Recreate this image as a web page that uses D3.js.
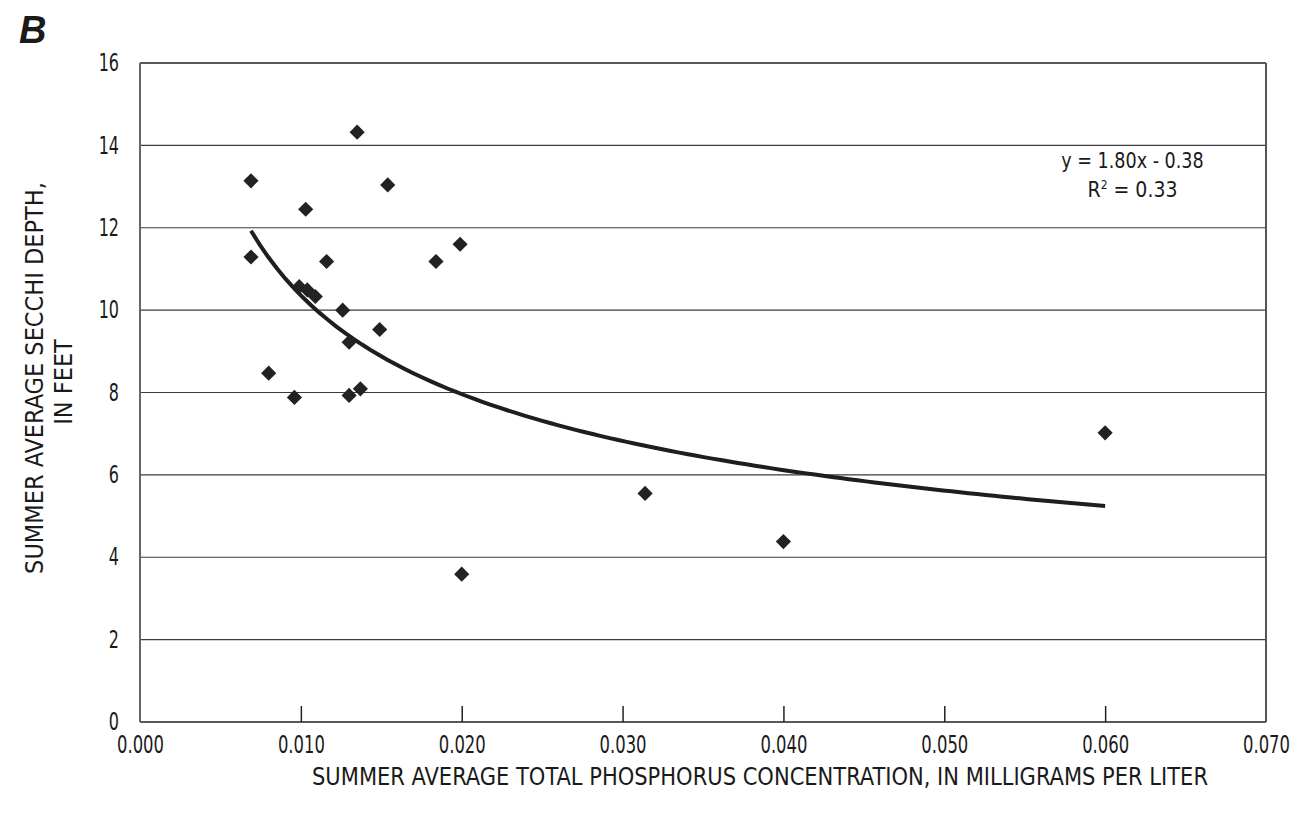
<!DOCTYPE html>
<html>
<head>
<meta charset="utf-8">
<script src="https://d3js.org/d3.v7.min.js"></script>
<style>
  body { margin: 0; background: #fff; }
  text { font-family: "DejaVu Sans Condensed", "DejaVu Sans", sans-serif; font-stretch: condensed; fill: #1a1a1a; }
</style>
</head>
<body>
<div id="chart"></div>
<script>
  // phosphorus (mg/L) and secchi depth (ft)
  const phosphorus = [0.0135, 0.0069, 0.0154, 0.0103, 0.0199, 0.0184, 0.0069, 0.0116,
    0.0099, 0.0104, 0.0109, 0.0126, 0.0149, 0.0130, 0.0080, 0.0096, 0.0130, 0.0137,
    0.0200, 0.0314, 0.0400, 0.0600];
  const secchi = [14.32, 13.14, 13.04, 12.45, 11.60, 11.18, 11.29, 11.18,
    10.57, 10.49, 10.33, 10.00, 9.53, 9.22, 8.47, 7.88, 7.93, 8.09,
    3.59, 5.55, 4.38, 7.02];

  const xTicks = [0, 0.01, 0.02, 0.03, 0.04, 0.05, 0.06, 0.07];
  const yTicks = [0, 2, 4, 6, 8, 10, 12, 14, 16];

  // power trendline y = a * x^b as printed on the chart
  const trendA = 1.80;
  const trendB = -0.38;

  const width = 1293, height = 814;
  const margin = { left: 140, right: 27, top: 63, bottom: 92 };

  // squeeze text horizontally to mimic the narrow typeface of the original
  function condense(sel, k) {
    sel.each(function () {
      const w = this.getComputedTextLength();
      d3.select(this).attr("textLength", w * k).attr("lengthAdjust", "spacingAndGlyphs");
    });
  }

  const svg = d3.select("#chart").append("svg")
    .attr("width", width)
    .attr("height", height);

  const x = d3.scaleLinear().domain([0, 0.07]).range([margin.left, width - margin.right]);
  const y = d3.scaleLinear().domain([0, 16]).range([height - margin.bottom, margin.top]);

  // horizontal gridlines
  svg.append("g")
    .selectAll("line")
    .data(yTicks.filter(d => d > 0 && d < 16))
    .enter()
    .append("line")
    .attr("x1", x(0)).attr("x2", x(0.07))
    .attr("y1", d => y(d)).attr("y2", d => y(d))
    .attr("stroke", "#3a3a3a")
    .attr("stroke-width", 1.2);

  // frame: top + bottom black, left + right gray
  svg.append("line").attr("x1", x(0)).attr("x2", x(0.07)).attr("y1", y(16)).attr("y2", y(16))
    .attr("stroke", "#222").attr("stroke-width", 1.5);
  svg.append("line").attr("x1", x(0)).attr("x2", x(0.07)).attr("y1", y(0)).attr("y2", y(0))
    .attr("stroke", "#222").attr("stroke-width", 1.5);
  svg.append("line").attr("x1", x(0)).attr("x2", x(0)).attr("y1", y(0)).attr("y2", y(16))
    .attr("stroke", "#666").attr("stroke-width", 2);
  svg.append("line").attr("x1", x(0.07)).attr("x2", x(0.07)).attr("y1", y(0)).attr("y2", y(16))
    .attr("stroke", "#555").attr("stroke-width", 2);

  // x axis (ticks point up into the plot)
  const xAxis = d3.axisBottom(x)
    .tickValues(xTicks)
    .tickFormat(d3.format(".3f"))
    .tickSizeInner(-16)
    .tickSizeOuter(0)
    .tickPadding(14);
  const gx = svg.append("g")
    .attr("transform", `translate(0,${y(0)})`)
    .call(xAxis);
  gx.select(".domain").remove();
  gx.selectAll(".tick line")
    .attr("stroke", "#222")
    .attr("stroke-width", 1.5)
    .filter(d => d === 0 || d === 0.07).remove();
  gx.selectAll(".tick text").attr("font-size", 24).attr("fill", "#1a1a1a");

  // y axis
  const yAxis = d3.axisLeft(y)
    .tickValues(yTicks)
    .tickSize(0)
    .tickPadding(21);
  const gy = svg.append("g")
    .attr("transform", `translate(${x(0)},0)`)
    .call(yAxis);
  gy.select(".domain").remove();
  gy.selectAll(".tick text").attr("font-size", 24).attr("fill", "#1a1a1a");
  svg.selectAll("g").attr("font-family", null);
  condense(gx.selectAll(".tick text"), 0.76);
  condense(gy.selectAll(".tick text"), 0.74);

  // trendline over the data range
  const [xMin, xMax] = d3.extent(phosphorus);
  const trend = d3.range(0, 101).map(i => {
    const xv = xMin + (xMax - xMin) * i / 100;
    return [xv, trendA * Math.pow(xv, trendB)];
  });
  svg.append("path")
    .datum(trend)
    .attr("fill", "none")
    .attr("stroke", "#1e1e1e")
    .attr("stroke-width", 4)
    .attr("d", d3.line().x(d => x(d[0])).y(d => y(d[1])));

  // diamond markers
  const diamond = d3.symbol().type(d3.symbolSquare).size(115);
  svg.append("g")
    .selectAll("path")
    .data(phosphorus.map((p, i) => [p, secchi[i]]))
    .enter()
    .append("path")
    .attr("d", diamond)
    .attr("transform", d => `translate(${x(d[0])},${y(d[1])}) rotate(45)`)
    .attr("fill", "#222");

  // equation
  const eq = svg.append("text")
    .attr("x", x(0.0617)).attr("y", y(13.45))
    .attr("text-anchor", "middle")
    .attr("font-size", 21)
    .text("y = 1.80x - 0.38");
  condense(eq, 0.93);
  const r2 = svg.append("text")
    .attr("x", x(0.0617)).attr("y", y(12.75))
    .attr("text-anchor", "middle")
    .attr("font-size", 21);
  r2.append("tspan").text("R");
  r2.append("tspan").attr("dy", -8).attr("font-size", 12).text("2");
  r2.append("tspan").attr("dy", 8).text(" = 0.33");

  // axis titles
  const xt = svg.append("text")
    .attr("x", 760)
    .attr("y", 785)
    .attr("text-anchor", "middle")
    .attr("font-size", 24)
    .text("SUMMER AVERAGE TOTAL PHOSPHORUS CONCENTRATION, IN MILLIGRAMS PER LITER");
  xt.attr("textLength", 896).attr("lengthAdjust", "spacingAndGlyphs");

  svg.append("text")
    .attr("transform", `translate(43,378) rotate(-90)`)
    .attr("text-anchor", "middle")
    .attr("font-size", 25)
    .text("SUMMER AVERAGE SECCHI DEPTH,");
  svg.append("text")
    .attr("transform", `translate(72,382) rotate(-90)`)
    .attr("text-anchor", "middle")
    .attr("font-size", 25)
    .text("IN FEET");

  // panel letter
  svg.append("text")
    .attr("x", 19).attr("y", 43)
    .attr("font-size", 38)
    .attr("font-weight", "bold")
    .attr("font-style", "italic")
    .style("font-family", "'Liberation Sans', Arial, sans-serif")
    .style("font-stretch", "normal")
    .text("B");
</script>
</body>
</html>
